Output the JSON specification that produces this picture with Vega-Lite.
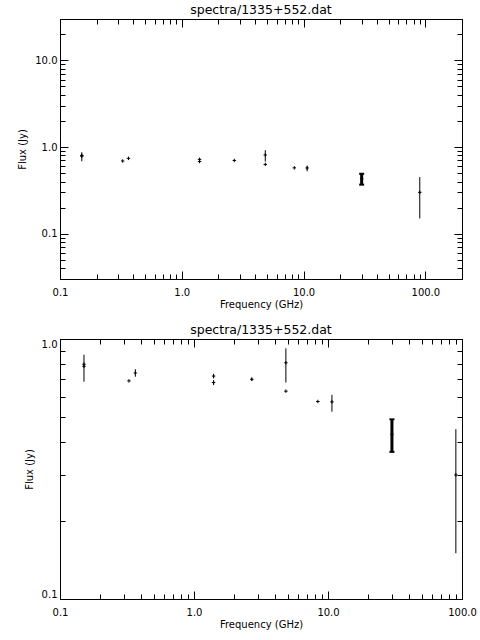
{
"$schema": "https://vega.github.io/schema/vega-lite/v6.json",
"padding": {"left": 17, "top": 4, "right": 0, "bottom": 10},
"background": "white",
"config": {
  "view": {"stroke": null},
  "font": "DejaVu Sans",
  "axis": {"labelFont": "DejaVu Sans", "labelFontSize": 10, "labelColor": "black", "titleFont": "DejaVu Sans", "titleFontSize": 10, "titleFontWeight": "normal", "titleColor": "black", "domainColor": "black", "domainWidth": 1, "tickColor": "black", "tickWidth": 1, "grid": false, "labelFlush": false},
  "title": {"font": "DejaVu Sans", "fontSize": 12.5, "fontWeight": "normal", "color": "black", "frame": "group", "anchor": "middle", "offset": 2}
},
"datasets": {
  "pts": [
    {"freq": 0.151, "flux": 0.80, "lo": 0.685, "hi": 0.87},
    {"freq": 0.151, "flux": 0.785, "lo": 0.785, "hi": 0.785},
    {"freq": 0.327, "flux": 0.69, "lo": 0.69, "hi": 0.69},
    {"freq": 0.365, "flux": 0.74, "lo": 0.716, "hi": 0.765},
    {"freq": 1.4, "flux": 0.72, "lo": 0.705, "hi": 0.735},
    {"freq": 1.4, "flux": 0.68, "lo": 0.665, "hi": 0.695},
    {"freq": 2.7, "flux": 0.70, "lo": 0.69, "hi": 0.71},
    {"freq": 4.85, "flux": 0.81, "lo": 0.68, "hi": 0.92},
    {"freq": 4.85, "flux": 0.63, "lo": 0.63, "hi": 0.63},
    {"freq": 8.4, "flux": 0.575, "lo": 0.575, "hi": 0.575},
    {"freq": 10.7, "flux": 0.573, "lo": 0.525, "hi": 0.61},
    {"freq": 30.0, "flux": 0.43, "lo": 0.368, "hi": 0.491},
    {"freq": 90.0, "flux": 0.30, "lo": 0.15, "hi": 0.45}
  ]
},
"bounds": "flush",
"spacing": 60,
"vconcat": [
  {
    "title": "spectra/1335+552.dat",
    "width": 402, "height": 260,
    "data": {"name": "pts"},
    "resolve": {"axis": {"x": "independent", "y": "independent"}},
    "layer": [
      {"mark": {"type": "point", "opacity": 0},
       "encoding": {
         "x": {"field": "freq", "type": "quantitative", "scale": {"type": "log", "domain": [0.1, 200], "nice": false}, "axis": {"orient": "bottom", "values": [0.2,0.3,0.4,0.5,0.6,0.7,0.8,0.9,2,3,4,5,6,7,8,9,20,30,40,50,60,70,80,90], "labels": false, "tickSize": -5, "title": null}},
         "y": {"field": "flux", "type": "quantitative", "scale": {"type": "log", "domain": [0.03, 30], "nice": false}, "axis": {"orient": "left", "values": [0.04,0.05,0.06,0.07,0.08,0.09,0.2,0.3,0.4,0.5,0.6,0.7,0.8,0.9,2,3,4,5,6,7,8,9,20], "labels": false, "tickSize": -5, "title": null}}
       }},
      {"mark": {"type": "point", "opacity": 0},
       "encoding": {
         "x": {"field": "freq", "type": "quantitative", "scale": {"type": "log", "domain": [0.1, 200], "nice": false}, "axis": {"orient": "top", "values": [0.2,0.3,0.4,0.5,0.6,0.7,0.8,0.9,2,3,4,5,6,7,8,9,20,30,40,50,60,70,80,90], "labels": false, "tickSize": -5, "title": null}},
         "y": {"field": "flux", "type": "quantitative", "scale": {"type": "log", "domain": [0.03, 30], "nice": false}, "axis": {"orient": "right", "values": [0.04,0.05,0.06,0.07,0.08,0.09,0.2,0.3,0.4,0.5,0.6,0.7,0.8,0.9,2,3,4,5,6,7,8,9,20], "labels": false, "tickSize": -5, "title": null}}
       }},
      {"mark": {"type": "point", "opacity": 0},
       "encoding": {
         "x": {"field": "freq", "type": "quantitative", "scale": {"type": "log", "domain": [0.1, 200], "nice": false}, "axis": {"orient": "top", "values": [0.1, 1, 10, 100], "labels": false, "tickSize": -8, "title": null}},
         "y": {"field": "flux", "type": "quantitative", "scale": {"type": "log", "domain": [0.03, 30], "nice": false}, "axis": {"orient": "right", "values": [0.1, 1, 10], "labels": false, "tickSize": -8, "title": null}}
       }},
      {"mark": {"type": "rule", "color": "black", "strokeWidth": 1},
       "encoding": {
         "x": {"field": "freq", "type": "quantitative", "scale": {"type": "log", "domain": [0.1, 200], "nice": false}, "axis": {"orient": "bottom", "values": [0.1, 1, 10, 100], "format": ".1f", "tickSize": -8, "labelPadding": 16, "title": "Frequency (GHz)", "titlePadding": 2}},
         "y": {"field": "lo", "type": "quantitative", "scale": {"type": "log", "domain": [0.03, 30], "nice": false}, "axis": {"orient": "left", "values": [0.1, 1, 10], "format": ".1f", "tickSize": -8, "labelPadding": 11, "title": "Flux (Jy)", "titlePadding": 7}},
         "y2": {"field": "hi"}
       }},
      {"mark": {"type": "point", "shape": "M-1,0H1M0,-1V1", "size": 12, "filled": false, "stroke": "black", "strokeWidth": 1, "opacity": 1},
       "encoding": {
         "x": {"field": "freq", "type": "quantitative", "axis": null},
         "y": {"field": "flux", "type": "quantitative", "axis": null}
       }},
      {"transform": [{"filter": "datum.freq == 30"}],
       "mark": {"type": "rule", "color": "black", "strokeWidth": 3},
       "encoding": {
         "x": {"field": "freq", "type": "quantitative", "axis": null},
         "y": {"field": "lo", "type": "quantitative", "axis": null},
         "y2": {"field": "hi"}
       }},
      {"transform": [{"filter": "datum.freq == 30"}],
       "mark": {"type": "tick", "color": "black", "orient": "horizontal", "size": 5, "thickness": 2, "opacity": 1},
       "encoding": {
         "x": {"field": "freq", "type": "quantitative", "axis": null},
         "y": {"field": "lo", "type": "quantitative", "axis": null}
       }},
      {"transform": [{"filter": "datum.freq == 30"}],
       "mark": {"type": "tick", "color": "black", "orient": "horizontal", "size": 5, "thickness": 2, "opacity": 1},
       "encoding": {
         "x": {"field": "freq", "type": "quantitative", "axis": null},
         "y": {"field": "hi", "type": "quantitative", "axis": null}
       }}
    ]
  },
  {
    "title": "spectra/1335+552.dat",
    "width": 402, "height": 260,
    "data": {"name": "pts"},
    "resolve": {"axis": {"x": "independent", "y": "independent"}},
    "layer": [
      {"mark": {"type": "point", "opacity": 0},
       "encoding": {
         "x": {"field": "freq", "type": "quantitative", "scale": {"type": "log", "domain": [0.1, 100], "nice": false}, "axis": {"orient": "bottom", "values": [0.2,0.3,0.4,0.5,0.6,0.7,0.8,0.9,2,3,4,5,6,7,8,9,20,30,40,50,60,70,80,90], "labels": false, "tickSize": -5, "title": null}},
         "y": {"field": "flux", "type": "quantitative", "scale": {"type": "log", "domain": [0.1, 1], "nice": false}, "axis": {"orient": "left", "values": [0.2,0.3,0.4,0.5,0.6,0.7,0.8,0.9], "labels": false, "tickSize": -5, "title": null}}
       }},
      {"mark": {"type": "point", "opacity": 0},
       "encoding": {
         "x": {"field": "freq", "type": "quantitative", "scale": {"type": "log", "domain": [0.1, 100], "nice": false}, "axis": {"orient": "top", "values": [0.2,0.3,0.4,0.5,0.6,0.7,0.8,0.9,2,3,4,5,6,7,8,9,20,30,40,50,60,70,80,90], "labels": false, "tickSize": -5, "title": null}},
         "y": {"field": "flux", "type": "quantitative", "scale": {"type": "log", "domain": [0.1, 1], "nice": false}, "axis": {"orient": "right", "values": [0.2,0.3,0.4,0.5,0.6,0.7,0.8,0.9], "labels": false, "tickSize": -5, "title": null}}
       }},
      {"mark": {"type": "point", "opacity": 0},
       "encoding": {
         "x": {"field": "freq", "type": "quantitative", "scale": {"type": "log", "domain": [0.1, 100], "nice": false}, "axis": {"orient": "top", "values": [0.1, 1, 10, 100], "labels": false, "tickSize": -8, "title": null}},
         "y": {"field": "flux", "type": "quantitative", "scale": {"type": "log", "domain": [0.1, 1], "nice": false}, "axis": {"orient": "right", "values": [0.1, 1], "labels": false, "tickSize": -8, "title": null}}
       }},
      {"mark": {"type": "rule", "color": "black", "strokeWidth": 1},
       "encoding": {
         "x": {"field": "freq", "type": "quantitative", "scale": {"type": "log", "domain": [0.1, 100], "nice": false}, "axis": {"orient": "bottom", "values": [0.1, 1, 10, 100], "format": ".1f", "tickSize": -8, "labelPadding": 16, "title": "Frequency (GHz)", "titlePadding": 2}},
         "y": {"field": "lo", "type": "quantitative", "scale": {"type": "log", "domain": [0.1, 1], "nice": false}, "axis": {"orient": "left", "values": [0.1, 1], "format": ".1f", "tickSize": -8, "labelPadding": 11, "labelFlush": true, "title": "Flux (Jy)", "titlePadding": 7}},
         "y2": {"field": "hi"}
       }},
      {"mark": {"type": "point", "shape": "M-1,0H1M0,-1V1", "size": 12, "filled": false, "stroke": "black", "strokeWidth": 1, "opacity": 1},
       "encoding": {
         "x": {"field": "freq", "type": "quantitative", "axis": null},
         "y": {"field": "flux", "type": "quantitative", "axis": null}
       }},
      {"transform": [{"filter": "datum.freq == 30"}],
       "mark": {"type": "rule", "color": "black", "strokeWidth": 3},
       "encoding": {
         "x": {"field": "freq", "type": "quantitative", "axis": null},
         "y": {"field": "lo", "type": "quantitative", "axis": null},
         "y2": {"field": "hi"}
       }},
      {"transform": [{"filter": "datum.freq == 30"}],
       "mark": {"type": "tick", "color": "black", "orient": "horizontal", "size": 5, "thickness": 2, "opacity": 1},
       "encoding": {
         "x": {"field": "freq", "type": "quantitative", "axis": null},
         "y": {"field": "lo", "type": "quantitative", "axis": null}
       }},
      {"transform": [{"filter": "datum.freq == 30"}],
       "mark": {"type": "tick", "color": "black", "orient": "horizontal", "size": 5, "thickness": 2, "opacity": 1},
       "encoding": {
         "x": {"field": "freq", "type": "quantitative", "axis": null},
         "y": {"field": "hi", "type": "quantitative", "axis": null}
       }}
    ]
  }
]
}
